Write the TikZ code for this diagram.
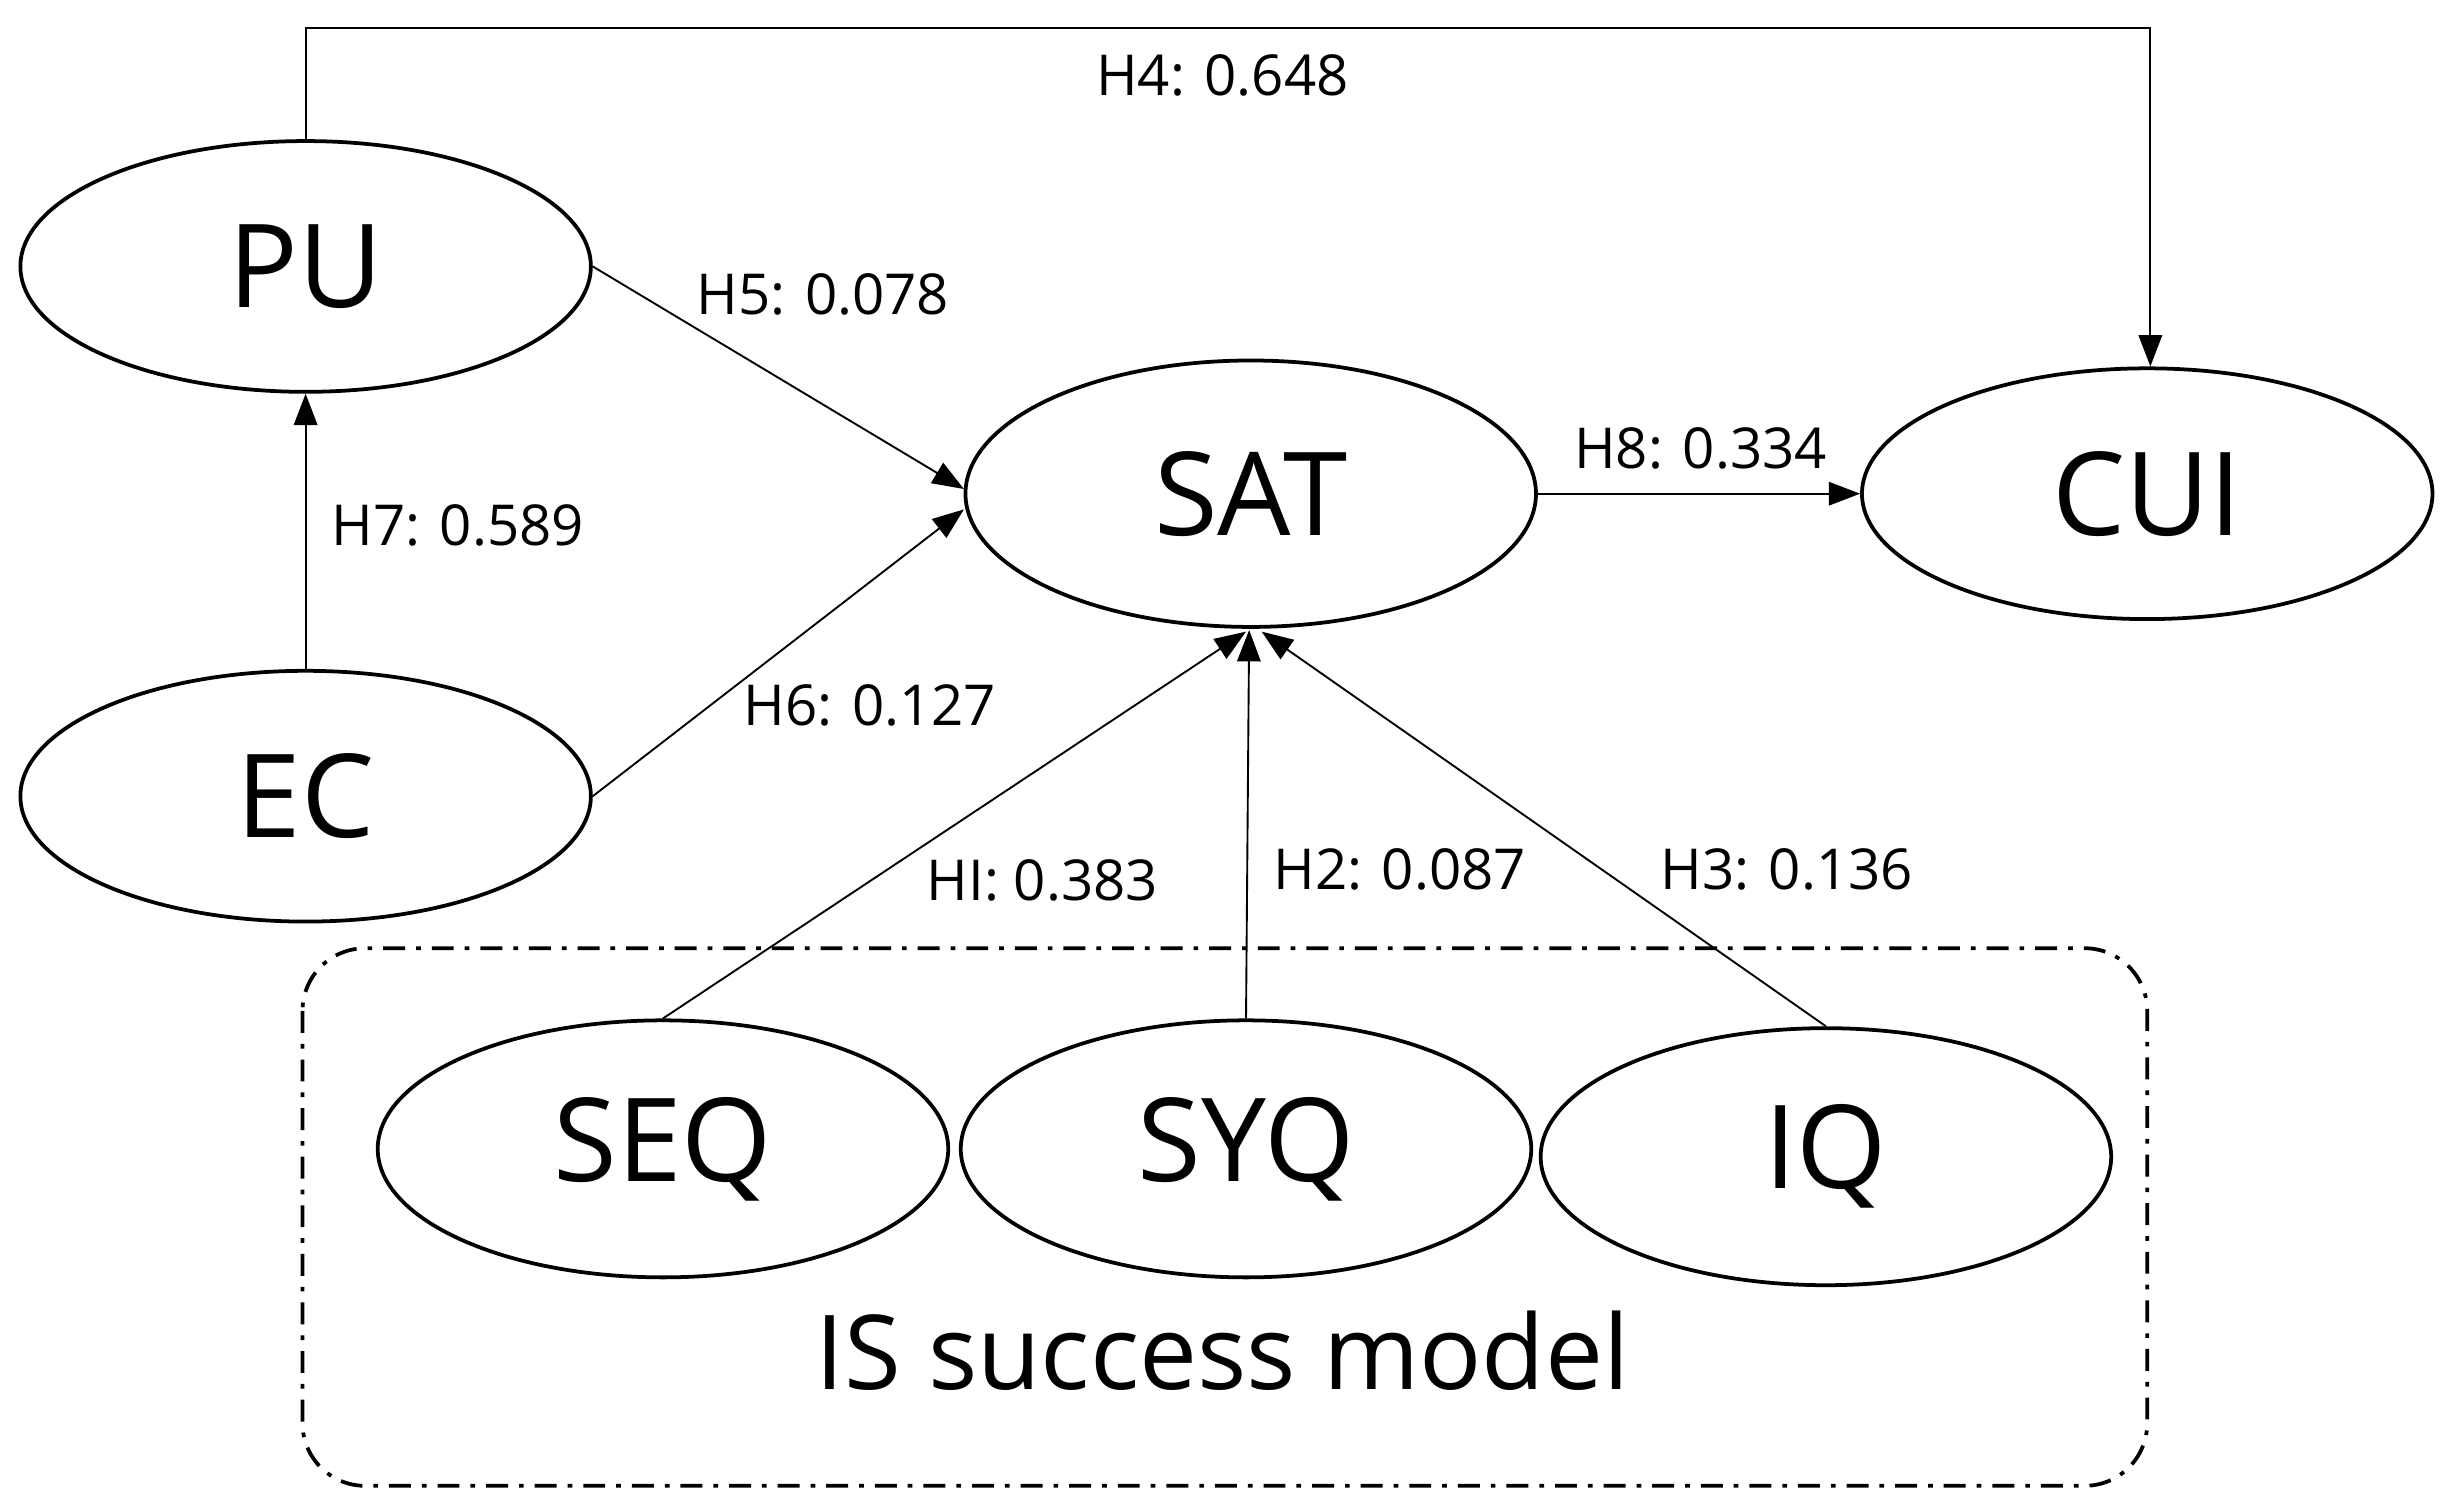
\documentclass[tikz,border=0pt]{standalone}
\usepackage{fontspec}
\setmainfont{Open Sans}
\usetikzlibrary{shapes.geometric,arrows.meta}
\begin{document}
\begin{tikzpicture}[x=1pt,y=-1pt,
  el/.style={draw,ellipse,line width=2.4pt,minimum width=364pt,minimum height=160pt,inner sep=0pt,font=\fontsize{74}{78}\selectfont},
  ar/.style={-{Triangle[length=20pt,width=15pt]},line width=1.2pt},
  lb/.style={font=\fontsize{36}{40}\selectfont}]
\useasboundingbox (0,0) rectangle (1560,956);
\draw[line width=2.4pt,dash pattern=on 14pt off 7pt on 3pt off 7pt,rounded corners=40pt] (193,605) rectangle (1370,948);
\node[el] (PU) at (195,170) {PU};
\node[el] (EC) at (195,508) {EC};
\node[el,minimum height=170pt] (SAT) at (798,315) {SAT};
\node[el] (CUI) at (1370,315) {CUI};
\node[el,minimum height=164pt] (SEQ) at (423,733) {SEQ};
\node[el,minimum height=164pt] (SYQ) at (795,733) {SYQ};
\node[el,minimum height=164pt] (IQ) at (1165,738) {IQ};
\node[font=\fontsize{66}{70}\selectfont] (IS) at (780,862) {IS success model};
\coordinate (t1) at (195,18);
\coordinate (t2) at (1372,18);
\draw[ar] (PU.north) -- (t1) -- (t2) -- (CUI.north -| t2);
\draw[ar] (PU.east) -- (615,312);
\draw[ar] (EC.east) -- (615,325);
\draw[ar] (EC.north) -- (PU.south);
\draw[ar] (SAT.east) -- (CUI.west);
\draw[ar] (SEQ.north) -- (795,403);
\draw[ar] (SYQ.north) -- (797,402);
\draw[ar] (IQ.north) -- (805,403);
\node[lb] (l4) at (780,48) {H4: 0.648};
\node[lb] (l5) at (525,188) {H5: 0.078};
\node[lb] (l6) at (555,450) {H6: 0.127};
\node[lb] (l7) at (292,335) {H7: 0.589};
\node[lb] (l8) at (1085,286) {H8: 0.334};
\node[lb] (l1) at (665,562) {HI: 0.383};
\node[lb] (l2) at (893,555) {H2: 0.087};
\node[lb] (l3) at (1140,555) {H3: 0.136};
\end{tikzpicture}
\end{document}
